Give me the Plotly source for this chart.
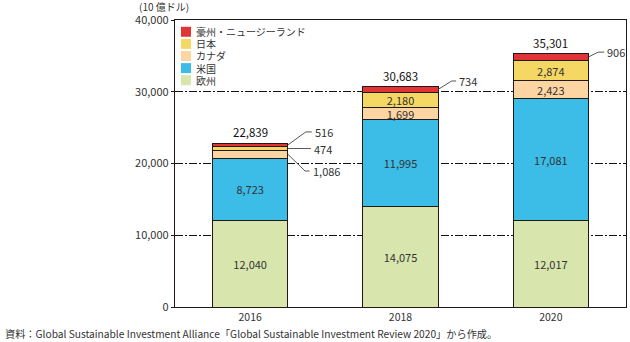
import plotly.graph_objects as go

# Sustainable investment assets by region (billion USD)
years = ["2016", "2018", "2020"]
series_names = ["欧州", "米国", "カナダ", "日本", "豪州・ニュージーランド"]
europe = [12040, 14075, 12017]
usa = [8723, 11995, 17081]
canada = [1086, 1699, 2423]
japan = [474, 2180, 2874]
anz = [516, 734, 906]
series_values = [europe, usa, canada, japan, anz]
series_colors = ["#d8e6ae", "#3bbde8", "#fdd5a2", "#f5d763", "#e13439"]
y_tick_vals = [0, 10000, 20000, 30000, 40000]
y_tick_text = ["0", "10,000", "20,000", "30,000", "40,000"]

# Segments labelled beside the bar with an elbow leader:
# (year index, series index, label height, elbow x offset, end x offset)
side_labels = [
    (0, 4, 24400, 0.12, 0.16),
    (0, 3, None, 0.15, 0.155),
    (0, 2, 18950, 0.115, 0.145),
    (1, 4, 31500, 0.09, 0.12),
    (2, 4, 35520, 0.065, 0.105),
]

FONT = "Noto Sans CJK JP"
TXT = "#333333"
x_pos = list(range(len(years)))
half_w = 0.25

side_set = {(a, b) for a, b, *_ in side_labels}

fig = go.Figure()
for s, (name, vals, col) in enumerate(zip(series_names, series_values, series_colors)):
    texts = ["" if (i, s) in side_set else f"{v:,}" for i, v in enumerate(vals)]
    fig.add_trace(go.Bar(
        x=x_pos, y=vals, name=name, width=2 * half_w,
        marker=dict(color=col, line=dict(color="#231815", width=1)),
        text=texts, textposition="inside", insidetextanchor="middle",
        constraintext="none", textangle=0,
        textfont=dict(family=FONT, size=11, color=TXT),
        hoverinfo="skip", showlegend=False,
    ))

totals = [sum(v[i] for v in series_values) for i in range(len(years))]
ann = []
for i, t in enumerate(totals):
    ann.append(dict(x=i, y=t, text=f"{t:,}", showarrow=False, yanchor="bottom",
                    yshift=1, font=dict(family=FONT, size=11.5, color="#111111")))

shapes = []
for i, s, ly, edx, ndx in side_labels:
    base = sum(series_values[k][i] for k in range(s))
    mid = base + series_values[s][i] / 2
    ly = mid if ly is None else ly
    x0 = i + half_w
    shapes.append(dict(type="path", xref="x", yref="y",
                       path=f"M {x0},{mid} L {x0 + edx},{ly} L {x0 + ndx},{ly}",
                       line=dict(color="#444444", width=0.9)))
    ann.append(dict(x=x0 + ndx, y=ly, text=f"{series_values[s][i]:,}", showarrow=False,
                    xanchor="left", yanchor="middle", xshift=1,
                    font=dict(family=FONT, size=11, color=TXT)))

# Legend drawn as swatches + labels inside the plot area, top-left
row0, gap = 0.959, 0.0422
for r, s in enumerate(reversed(range(len(series_names)))):
    yc = row0 - r * gap
    shapes.append(dict(type="rect", xref="paper", yref="paper",
                       x0=0.0133, x1=0.0355, y0=yc - 0.0174, y1=yc + 0.0174,
                       fillcolor=series_colors[s], line=dict(width=0)))
    ann.append(dict(x=0.042, y=yc, xref="paper", yref="paper", text=series_names[s],
                    showarrow=False, xanchor="left", yanchor="middle",
                    font=dict(family=FONT, size=10, color=TXT)))

ann.append(dict(x=-0.084, y=1.048, xref="paper", yref="paper", text="(10 億ドル)",
                showarrow=False, xanchor="left", yanchor="middle",
                font=dict(family=FONT, size=10, color=TXT)))
ann.append(dict(x=-0.381, y=-0.0906, xref="paper", yref="paper",
                text="資料：Global Sustainable Investment Alliance「Global Sustainable Investment Review 2020」から作成。",
                showarrow=False, xanchor="left", yanchor="middle",
                font=dict(family=FONT, size=10.2, color=TXT)))

fig.update_layout(
    width=630, height=342, barmode="stack",
    margin=dict(l=175, r=4, t=20, b=35),
    paper_bgcolor="white", plot_bgcolor="white",
    font=dict(family=FONT, size=11, color=TXT),
    annotations=ann, shapes=shapes, showlegend=False,
    xaxis=dict(range=[-0.5, 2.5], tickvals=x_pos, ticktext=years, showgrid=False,
               showline=True, linecolor="#231815", linewidth=1.2, mirror=True,
               ticks="", tickfont=dict(size=10.5, color=TXT), fixedrange=True),
    yaxis=dict(range=[0, 40000], tickvals=y_tick_vals, ticktext=y_tick_text,
               showgrid=True, gridcolor="#111111", gridwidth=1,
               griddash="8px,2px,2px,2px", zeroline=False,
               showline=True, linecolor="#231815", linewidth=1.2, mirror=True,
               ticks="outside", ticklen=3, tickcolor="#231815",
               tickfont=dict(size=11, color=TXT), fixedrange=True),
)

fig.write_html("out.html")
